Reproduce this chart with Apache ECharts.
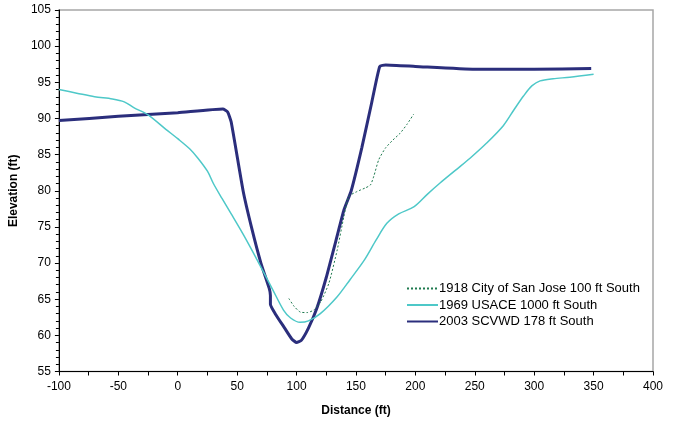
<!DOCTYPE html>
<html>
<head>
<meta charset="utf-8">
<script src="https://cdn.jsdelivr.net/npm/echarts@6/dist/echarts.min.js"></script>
<style>html,body{margin:0;padding:0;background:#fff}#c{width:673px;height:425px}</style>
</head>
<body>
<div id="c"></div>
<script>
// Series names
const seriesNames = ['1918 City of San Jose 100 ft South', '1969 USACE 1000 ft South', '2003 SCVWD 178 ft South'];

// 1918 City of San Jose 100 ft South
const x1918 = [93.5, 98, 103.4, 109, 114.5, 120.2, 127.2, 134.2, 139.8, 144, 151, 158, 162.2, 165, 169.2, 174.8, 181, 187.4, 193, 198.6];
const y1918 = [65.1, 64.0, 63.2, 63.15, 63.5, 64.6, 67.2, 71.8, 76.4, 79.2, 79.9, 80.4, 80.8, 82.0, 84.3, 85.9, 87.0, 88.0, 89.2, 90.6];

// 1969 USACE 1000 ft South
const x1969 = [-100, -85, -70, -55, -45, -37, -25, -10, 0, 10, 17, 25, 30, 37, 45, 55, 65, 73, 80, 89, 95, 103, 110, 120, 134, 145, 157, 167, 176, 186, 199, 210, 221, 235, 246, 260, 274, 283, 291, 298, 305, 316, 330, 350];
const y1969 = [94, 93.5, 93, 92.7, 92.3, 91.5, 90.5, 88.5, 87.2, 85.8, 84.5, 82.7, 81, 79, 76.8, 74, 71, 68.5, 66.3, 63.5, 62.4, 61.8, 62, 63, 65.3, 67.7, 70.4, 73.2, 75.5, 76.8, 77.8, 79.5, 81.1, 83, 84.5, 86.6, 89, 91.2, 93.1, 94.5, 95.2, 95.5, 95.7, 96.1];

// 2003 SCVWD 178 ft South
const x2003 = [-100, -50, 0, 38, 42, 45, 55, 62, 70, 77, 78, 78, 82, 90, 96, 100, 104, 110, 117, 125, 133, 140, 146, 155, 163, 170, 175, 200, 250, 300, 348];
const y2003 = [89.7, 90.3, 90.8, 91.3, 90.9, 89.5, 80, 75, 70, 66.5, 65.5, 64.3, 63, 61, 59.5, 59, 59.3, 61, 63.7, 68, 73, 77.4, 80, 86, 92, 97.2, 97.4, 97.2, 96.8, 96.8, 96.9];

// Axis settings
const xMin = -100, xMax = 400, xStep = 50;
const yMin = 55, yMax = 105, yStep = 5;
const xTitle = 'Distance (ft)';
const yTitle = 'Elevation (ft)';

const zip = (xs, ys) => xs.map((x, i) => [x, ys[i]]);
const font = 'Liberation Sans, Arial, sans-serif';

const chart = echarts.init(document.getElementById('c'), null, {renderer: 'canvas'});
chart.setOption({
  animation: false,
  backgroundColor: '#fff',
  textStyle: {fontFamily: font},
  grid: {left: 57, right: 20, top: 10, bottom: 53.5, show: true, borderColor: '#a6a6a6', borderWidth: 1.5, backgroundColor: '#fff'},
  legend: {
    orient: 'vertical', left: 401, top: 277, itemGap: 3.5, itemWidth: 31, itemHeight: 14,
    itemStyle: {opacity: 0},
    textStyle: {fontFamily: font, fontSize: 13, color: '#000', padding: [0,0,0,-4]},
    data: seriesNames
  },
  xAxis: {
    type: 'value', min: xMin, max: xMax, interval: xStep,
    name: xTitle, nameLocation: 'middle', nameGap: 33,
    nameTextStyle: {fontFamily: font, fontSize: 12, fontWeight: 'bold', color: '#000'},
    axisLine: {show: true, onZero: false, lineStyle: {color: '#000', width: 1}},
    axisTick: {show: true, length: 4, lineStyle: {color: '#000'}},
    minorTick: {show: true, splitNumber: 2, length: 4, lineStyle: {color: '#000'}},
    axisLabel: {fontFamily: font, fontSize: 12, color: '#000', margin: 9},
    splitLine: {show: false}
  },
  yAxis: {
    type: 'value', min: yMin, max: yMax, interval: yStep,
    name: yTitle, nameLocation: 'middle', nameGap: 34, nameRotate: 90,
    nameTextStyle: {fontFamily: font, fontSize: 12, fontWeight: 'bold', color: '#000'},
    axisLine: {show: true, onZero: false, lineStyle: {color: '#000', width: 1}},
    axisTick: {show: true, length: 4, lineStyle: {color: '#000'}},
    minorTick: {show: true, splitNumber: 5, length: 3, lineStyle: {color: '#000'}},
    axisLabel: {fontFamily: font, fontSize: 12, color: '#000', margin: 8},
    splitLine: {show: false}
  },
  series: [
    {name: seriesNames[0], type: 'line', data: zip(x1918, y1918), symbol: 'none', smooth: 0.2,
     lineStyle: {color: '#1f7a4f', width: 1, type: [2, 2]}, itemStyle: {color: '#1f7a4f'}, z: 4},
    {name: seriesNames[1], type: 'line', data: zip(x1969, y1969), symbol: 'none', smooth: 0.3,
     lineStyle: {color: '#4ec8c8', width: 1.5}, itemStyle: {color: '#4ec8c8'}, z: 3},
    {name: seriesNames[2], type: 'line', data: zip(x2003, y2003), symbol: 'none', smooth: 0.15,
     lineStyle: {color: '#2b2e7c', width: 3}, itemStyle: {color: '#2b2e7c'}, z: 2}
  ]
});
</script>
</body>
</html>
